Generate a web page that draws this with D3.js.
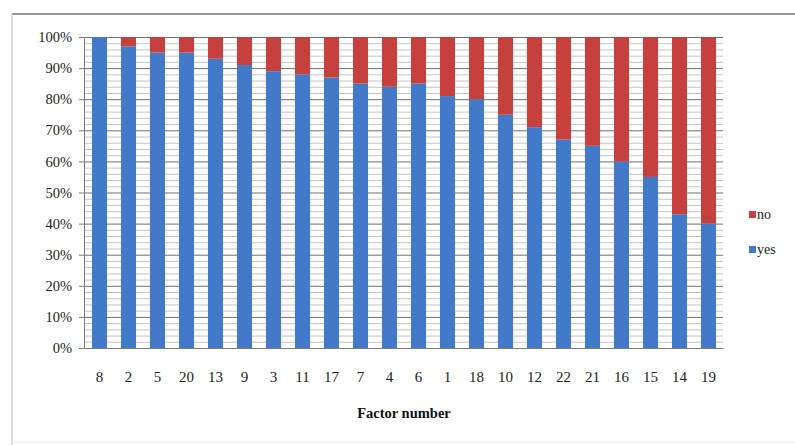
<!DOCTYPE html>
<html><head><meta charset="utf-8">
<script src="https://cdn.jsdelivr.net/npm/d3@7"></script>
<style>body{margin:0;background:#fff}svg{display:block}</style>
</head><body>
<svg id="c" width="795" height="445"></svg>
<script>
const categories = ["8","2","5","20","13","9","3","11","17","7","4","6","1","18","10","12","22","21","16","15","14","19"];
const yesValues = [100,97,95,95,93,91,89,88,87,85,84,85,81,80,75,71,67,65,60,55,43,40];
const noValues = yesValues.map(v => 100 - v);
const seriesNames = ["yes","no"];
const yTicks = [0,10,20,30,40,50,60,70,80,90,100];

const svg = d3.select("#c");
const font = "'Liberation Serif','Times New Roman',serif";
const blue = "#4279c8", red = "#c6403d";

// outer frame
svg.append("line").attr("x1",12).attr("x2",795).attr("y1",14).attr("y2",14).attr("stroke","#9a9a9a").attr("stroke-width",2);
svg.append("line").attr("x1",12).attr("x2",12).attr("y1",14).attr("y2",445).attr("stroke","#d0d0d0").attr("stroke-width",1.5);
svg.append("line").attr("x1",12).attr("x2",795).attr("y1",442).attr("y2",442).attr("stroke","#ececec").attr("stroke-width",1);

const x = d3.scaleBand().domain(categories).range([85,723]).paddingInner(0.48).paddingOuter(0.24);
const y = d3.scaleLinear().domain([0,100]).range([348,37]);

// minor grid
const minor = d3.range(0,101,2).filter(v => v % 10 !== 0);
svg.append("g").selectAll("line").data(minor).join("line")
  .attr("x1",85).attr("x2",723).attr("y1",d=>y(d)+0.5).attr("y2",d=>y(d)+0.5)
  .attr("stroke","#c4c4c4").attr("stroke-width",1);
// major grid
svg.append("g").selectAll("line").data(yTicks).join("line")
  .attr("x1",85).attr("x2",723).attr("y1",d=>y(d)+0.5).attr("y2",d=>y(d)+0.5)
  .attr("stroke","#6e6e6e").attr("stroke-width",1);

// bars
const rows = categories.map((c,i)=>({cat:c,yes:yesValues[i],no:noValues[i]}));
const stack = d3.stack().keys(seriesNames)(rows);
const colors = {yes:blue,no:red};
svg.append("g").selectAll("g").data(stack).join("g").attr("fill",d=>colors[d.key])
  .selectAll("rect").data(d=>d).join("rect")
  .attr("x",d=>x(d.data.cat)).attr("width",x.bandwidth())
  .attr("y",d=>y(d[1])).attr("height",d=>y(d[0])-y(d[1]));

// y axis
const yAxis = svg.append("g").attr("transform","translate(84,0)")
  .call(d3.axisLeft(y).tickValues(yTicks).tickFormat(d=>d+"%").tickSize(5).tickPadding(7));
yAxis.select(".domain").attr("stroke","#7a7a7a");
yAxis.selectAll(".tick line").attr("stroke","#7a7a7a");
yAxis.selectAll("text").attr("font-family",font).attr("font-size",14.5).attr("fill","#222");

// x axis
const xAxis = svg.append("g").attr("transform","translate(0,348)")
  .call(d3.axisBottom(x).tickSize(0).tickPadding(23));
xAxis.select(".domain").attr("stroke","#7a7a7a");
xAxis.selectAll("text").attr("font-family",font).attr("font-size",15).attr("fill","#222");

svg.append("text").attr("x",404).attr("y",418).attr("text-anchor","middle")
  .attr("font-family",font).attr("font-size",14.5).attr("font-weight","bold").attr("fill","#111")
  .text("Factor number");

// legend
const legend = svg.append("g");
[["no",red,215],["yes",blue,250]].forEach(([t,c,yy])=>{
  legend.append("rect").attr("x",749).attr("y",yy-4).attr("width",7).attr("height",7).attr("fill",c);
  legend.append("text").attr("x",757).attr("y",yy+4).attr("font-family",font).attr("font-size",14).attr("fill","#222").text(t);
});
</script>
</body></html>
